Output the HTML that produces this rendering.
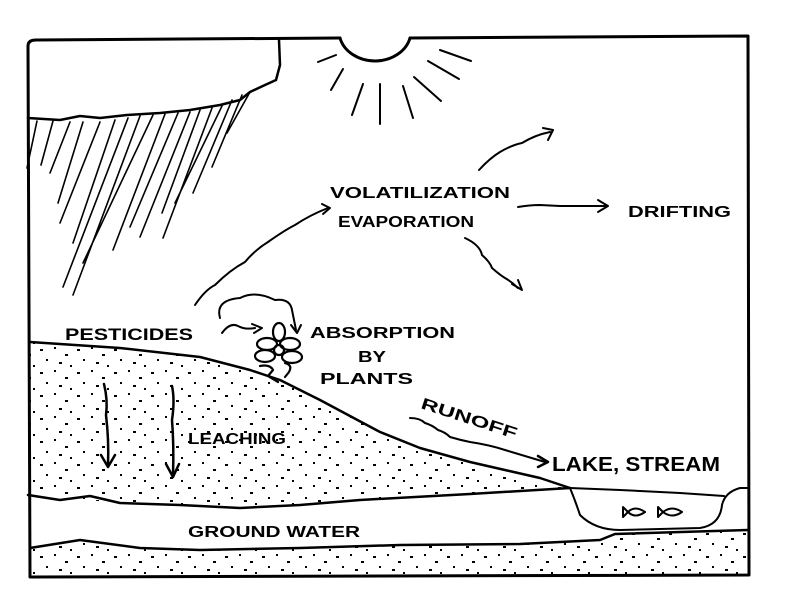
<!DOCTYPE html>
<html><head><meta charset="utf-8"><style>
html,body{margin:0;padding:0;background:#fff;}
svg{display:block;}
text{font-family:"Liberation Sans",sans-serif;font-weight:bold;fill:#000;}
</style></head><body>
<svg width="800" height="604" viewBox="0 0 800 604" xmlns="http://www.w3.org/2000/svg">
<defs>
<pattern id="dots" width="37" height="23" patternUnits="userSpaceOnUse">
<rect x="3" y="4" width="3" height="2" fill="#000"/>
<rect x="17" y="2" width="2" height="2" fill="#000"/>
<rect x="28" y="9" width="3" height="2" fill="#000"/>
<rect x="9" y="14" width="2" height="2" fill="#000"/>
<rect x="22" y="17" width="3" height="2" fill="#000"/>
<rect x="33" y="20" width="2" height="2" fill="#000"/>
</pattern>
<clipPath id="soil"><path d="M30,342 L120,348 L200,357 L250,370 L280,380 L320,400 L380,432 L420,448 L470,462 L540,478 L570,488 L470,494 L360,500 L240,508 L120,503 L30,495 Z"/></clipPath>
<clipPath id="soil2"><path d="M30,548 L80,540 L140,548 L200,550 L300,548 L400,545 L520,544 L600,540 L615,534 L748,530 L748,575 L30,576 Z"/></clipPath>
</defs>
<g fill="none" stroke="#000" stroke-linecap="round" stroke-linejoin="round">
<!-- frame -->
<path d="M28,46 Q28,40 36,40 L340,38 M410,38 L748,36 L749,575 L30,577 L28,46" stroke-width="3"/>
<!-- sun -->
<path d="M340,38 A36,30 0 0 0 410,38" stroke-width="3"/>
<path d="M318,62 L336,55 M343,69 L331,90 M363,84 L352,115 M380,84 L380,124 M403,86 L413,118 M414,77 L441,101 M428,61 L459,79 M440,50 L471,61" stroke-width="2"/>
<!-- cloud -->
<path d="M279,40 L280,65 L276,80 L265,85 L250,92 L240,100 L220,105 L190,110 L160,113 L127,115 L100,118 L80,116 L60,120 L28,118" stroke-width="2.5"/>
<!-- rain -->
<path stroke-width="1.6" d="M37,121 L27,168 M53,121 L41,165 M70,122 L50,173 M83,122 L58,203 M100,122 L60,223 M115,120 L73,243 M128,118 L63,287 M140,116 L73,295 M153,115 L83,263 M165,114 L113,250 M178,113 L130,227 M190,112 L140,237 M200,110 L162,213 M212,108 L163,238 M222,106 L175,203 M232,100 L193,193 M242,95 L212,167 M250,92 L227,133"/>
<!-- arrows volatilization -->
<path d="M195,305 Q205,290 215,285 Q230,270 245,262 Q255,250 268,242 Q285,230 295,225 Q310,215 328,208" stroke-width="2"/>
<path d="M322,204 L330,208 L323,214" stroke-width="2"/>
<path d="M479,170 Q490,158 500,152 Q512,145 522,143 Q535,135 550,132" stroke-width="2"/>
<path d="M543,128 L553,130 L548,140" stroke-width="2"/>
<path d="M518,207 Q530,205 540,205 L560,206 L605,206" stroke-width="2"/>
<path d="M598,200 L608,206 L598,212" stroke-width="2"/>
<path d="M465,238 Q480,245 482,255 Q490,262 492,268 Q500,275 505,278 Q512,282 518,288" stroke-width="2"/>
<path d="M512,284 L522,290 L518,280" stroke-width="2"/>
<!-- absorption arrows -->
<path d="M222,333 Q230,322 238,326 Q245,330 255,328" stroke-width="2"/>
<path d="M252,324 L262,328 L254,333" stroke-width="2"/>
<path d="M220,318 Q215,300 240,298 Q255,290 275,300 Q290,298 292,310 L296,330" stroke-width="2"/>
<path d="M291,325 L297,333 L301,325" stroke-width="2"/>
<!-- flower -->
<g stroke-width="2.2">
<ellipse cx="279" cy="332" rx="6" ry="9"/>
<ellipse cx="267" cy="344" rx="10" ry="6"/>
<ellipse cx="290" cy="344" rx="10" ry="6"/>
<ellipse cx="265" cy="356" rx="10" ry="6"/>
<ellipse cx="292" cy="357" rx="10" ry="6"/>
<circle cx="279" cy="350" r="5"/>
<path d="M260,366 Q270,364 273,370 L268,376 L278,382 M285,363 Q293,365 289,372 L285,377"/>
</g>
<!-- ground surface -->
<path d="M30,342 L120,348 L200,357 L250,370 L280,380 L320,400 L380,432 L420,448 L470,462 L540,478 L570,488" stroke-width="2.5"/>
<!-- lower soil line -->
<path d="M28,495 L60,500 L90,496 L120,503 L180,505 L240,508 L300,505 L360,500 L470,494 L570,488" stroke-width="2.5"/>
<!-- lake -->
<path d="M570,488 Q575,500 580,515 Q595,530 620,530 L700,528 Q720,525 722,505 Q725,492 740,488 L748,488" stroke-width="2"/>
<path d="M570,488 L620,490 L680,493 L724,496" stroke-width="2"/>
<!-- fish -->
<path d="M623,507 L628,512 L623,517 Z M628,512 Q635,505 645,512 Q635,519 628,512 M658,507 L663,512 L658,517 Z M663,512 Q672,505 682,512 Q672,519 663,512" stroke-width="2"/>
<!-- ground water bottom -->
<path d="M30,548 L80,540 L140,548 L200,550 L300,548 L400,545 L520,544 L600,540 L615,534 L748,530" stroke-width="2.5"/>
<!-- leaching arrows -->
<path d="M104,384 Q108,400 106,415 Q109,440 108,465" stroke-width="2.5"/>
<path d="M101,455 L108,467 L115,455" stroke-width="2.5"/>
<path d="M172,386 Q175,400 172,420 Q174,445 173,475" stroke-width="2.5"/>
<path d="M166,464 L173,477 L179,464" stroke-width="2.5"/>
<!-- runoff arrow -->
<path d="M410,418 Q420,418 425,423 Q432,425 438,430 Q445,432 450,437 Q460,440 470,442 Q490,445 505,450 L545,462" stroke-width="2"/>
<path d="M538,456 L548,462 L538,467" stroke-width="2.5"/>
</g>
<rect x="28" y="330" width="560" height="180" fill="url(#dots)" clip-path="url(#soil)"/>
<rect x="28" y="525" width="722" height="55" fill="url(#dots)" clip-path="url(#soil2)"/>
<text x="330" y="198" font-size="16" textLength="180" lengthAdjust="spacingAndGlyphs">VOLATILIZATION</text>
<text x="338" y="227" font-size="16" textLength="136" lengthAdjust="spacingAndGlyphs">EVAPORATION</text>
<text x="628" y="217" font-size="16" textLength="103" lengthAdjust="spacingAndGlyphs">DRIFTING</text>
<text x="65" y="340" font-size="17" textLength="128" lengthAdjust="spacingAndGlyphs">PESTICIDES</text>
<text x="310" y="338" font-size="16" textLength="145" lengthAdjust="spacingAndGlyphs">ABSORPTION</text>
<text x="358" y="362" font-size="16" textLength="28" lengthAdjust="spacingAndGlyphs">BY</text>
<text x="320" y="384" font-size="16" textLength="93" lengthAdjust="spacingAndGlyphs">PLANTS</text>
<text x="420" y="408" font-size="16" textLength="100" lengthAdjust="spacingAndGlyphs" transform="rotate(18 420 408)">RUNOFF</text>
<text x="188" y="444" font-size="16" textLength="98" lengthAdjust="spacingAndGlyphs">LEACHING</text>
<text x="552" y="471" font-size="20" font-weight="900" textLength="168" lengthAdjust="spacingAndGlyphs">LAKE, STREAM</text>
<text x="188" y="537" font-size="16" textLength="172" lengthAdjust="spacingAndGlyphs">GROUND WATER</text>
</svg>
</body></html>
